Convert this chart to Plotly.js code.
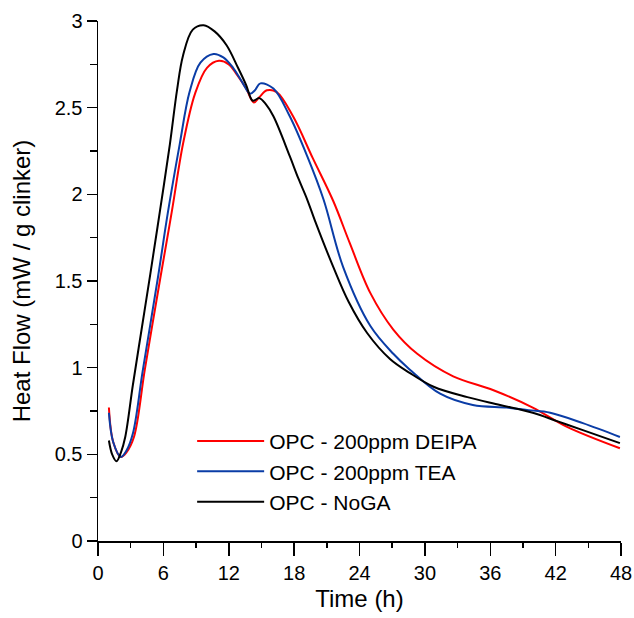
<!DOCTYPE html>
<html>
<head>
<meta charset="utf-8">
<script src="https://cdn.plot.ly/plotly-3.0.1.min.js"></script>
<style>html,body{margin:0;padding:0;background:#fff;}#chart{width:634px;height:618px;}</style>
</head>
<body>
<div id="chart"></div>
<script>
// Time (h) and heat flow (mW / g clinker)
const tDEIPA = [1.0, 1.4, 2.1, 2.6, 3.3, 4.3, 5.7, 6.8, 7.8, 8.9, 10.0, 11.1, 12.0, 12.75, 13.6, 14.3, 14.8, 15.5, 16.4, 17.9, 19.7, 21.6, 23.1, 25.0, 27.1, 29.3, 32.6, 36.3, 39.9, 43.0, 47.9];
const yDEIPA = [0.77, 0.57, 0.485, 0.51, 0.60, 0.99, 1.51, 1.91, 2.29, 2.58, 2.73, 2.77, 2.75, 2.69, 2.61, 2.53, 2.56, 2.60, 2.59, 2.45, 2.21, 1.96, 1.72, 1.43, 1.22, 1.08, 0.95, 0.87, 0.77, 0.66, 0.535];

const tTEA = [1.0, 1.4, 2.1, 2.6, 3.2, 4.1, 5.5, 6.4, 7.5, 8.4, 9.4, 10.6, 11.5, 12.4, 13.3, 13.95, 14.4, 14.9, 16.1, 17.6, 19.2, 20.7, 22.5, 25.0, 27.1, 28.6, 31.4, 34.4, 37.5, 39.5, 41.5, 44.5, 47.9];
const yTEA = [0.74, 0.57, 0.485, 0.52, 0.62, 0.98, 1.52, 1.89, 2.29, 2.59, 2.76, 2.81, 2.79, 2.73, 2.64, 2.58, 2.60, 2.64, 2.61, 2.45, 2.22, 1.97, 1.58, 1.24, 1.08, 0.99, 0.85, 0.785, 0.77, 0.755, 0.74, 0.68, 0.60];

const tNoGA = [1.0, 1.3, 1.7, 2.1, 2.5, 3.2, 4.0, 4.8, 5.7, 6.6, 7.25, 7.8, 8.7, 9.7, 10.7, 11.8, 12.85, 13.6, 14.2, 14.8, 15.4, 16.1, 17.6, 18.4, 19.2, 19.9, 21.6, 23.0, 24.7, 26.8, 28.6, 30.8, 33.9, 36.9, 39.9, 42.2, 44.5, 47.9];
const yNoGA = [0.58, 0.50, 0.46, 0.51, 0.60, 0.90, 1.22, 1.54, 1.91, 2.29, 2.60, 2.80, 2.95, 2.975, 2.94, 2.86, 2.73, 2.63, 2.54, 2.555, 2.52, 2.45, 2.22, 2.09, 1.97, 1.85, 1.58, 1.38, 1.20, 1.05, 0.97, 0.89, 0.83, 0.785, 0.74, 0.69, 0.64, 0.565];

const seriesNames = ['OPC - 200ppm DEIPA', 'OPC - 200ppm TEA', 'OPC - NoGA'];
const seriesColors = ['#ff0000', '#0a3ca6', '#000000'];

const xs = [tDEIPA, tTEA, tNoGA];
const ys = [yDEIPA, yTEA, yNoGA];

const traces = xs.map((x, i) => ({
  x: x, y: ys[i], type: 'scatter', mode: 'lines', name: seriesNames[i],
  line: {color: seriesColors[i], width: 2, shape: 'spline', smoothing: 1}
}));

const font = 'Liberation Sans, Arial, sans-serif';
const layout = {
  width: 634, height: 618,
  margin: {l: 98, r: 13, t: 21, b: 77},
  paper_bgcolor: '#fff', plot_bgcolor: '#fff',
  font: {family: font, color: '#000', size: 20},
  showlegend: true,
  legend: {
    x: 0.18, y: 0.231, xanchor: 'left', yanchor: 'top',
    bgcolor: 'rgba(0,0,0,0)', borderwidth: 0,
    font: {family: font, size: 21, color: '#000'},
    traceorder: 'normal', itemwidth: 67
  },
  xaxis: {
    range: [0, 48], dtick: 6, tick0: 0,
    showline: true, linecolor: '#000', linewidth: 1.5,
    ticks: 'outside', ticklen: 13, tickwidth: 1.5, tickcolor: '#000',
    minor: {dtick: 3, ticks: 'outside', ticklen: 5, tickwidth: 1.5, tickcolor: '#000'},
    showgrid: false, zeroline: false,
    tickfont: {family: font, size: 20},
    title: {text: 'Time (h)', font: {family: font, size: 24}, standoff: 7}
  },
  yaxis: {
    range: [0, 3], dtick: 0.5, tick0: 0,
    showline: true, linecolor: '#000', linewidth: 1.5,
    ticks: 'outside', ticklen: 10, tickwidth: 1.5, tickcolor: '#000',
    minor: {dtick: 0.25, ticks: 'outside', ticklen: 7, tickwidth: 1.5, tickcolor: '#000'},
    showgrid: false, zeroline: false,
    tickfont: {family: font, size: 20},
    title: {text: 'Heat Flow (mW / g clinker)', font: {family: font, size: 24}, standoff: 17}
  }
};

Plotly.newPlot('chart', traces, layout, {displayModeBar: false, staticPlot: true});
</script>
</body>
</html>
